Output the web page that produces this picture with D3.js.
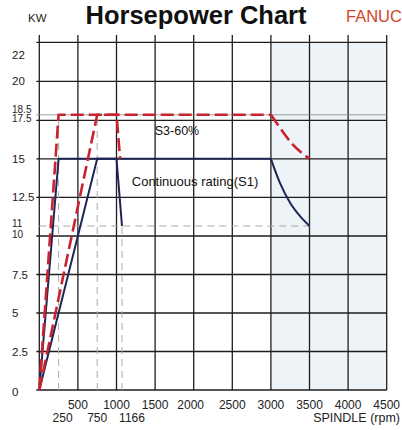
<!DOCTYPE html>
<html>
<head>
<meta charset="utf-8">
<script src="https://cdn.jsdelivr.net/npm/d3@7/dist/d3.min.js"></script>
<style>
  html, body { margin: 0; padding: 0; background: #fff; }
  svg { display: block; font-family: "Liberation Sans", Arial, sans-serif; }
</style>
</head>
<body>
<svg id="chart" width="402" height="430"></svg>
<script>
// ---- data ----
const yTicks = [0, 2.5, 5, 7.5, 10, 11, 12.5, 15, 17.5, 18.5, 20, 22];
const yGrid = [0, 2.5, 5, 7.5, 10, 12.5, 15, 17.5, 20, 22.5];
const xGrid = [0, 500, 1000, 1500, 2000, 2500, 3000, 3500, 4000, 4500];
const xTicksTop = [500, 1000, 1500, 2000, 2500, 3000, 3500, 4000, 4500];
const xTicksBottom = [250, 750, 1166];

// S1 continuous rating (high range)
const s1HighRpm = [0, 250, 3000, 3120, 3250, 3380, 3500];
const s1HighKw  = [0, 15, 15, 13.4, 12.2, 11.5, 11];
// S1 continuous rating (low range)
const s1LowRpm = [0, 750, 1000, 1166];
const s1LowKw  = [0, 15, 15, 11];
// S3-60% (high range)
const s3HighRpm = [0, 250, 3000, 3120, 3270, 3500];
const s3HighKw  = [0, 18.5, 18.5, 17.0, 16.0, 15];
// S3-60% (low range)
const s3LowRpm = [0, 750, 1000, 1110];
const s3LowKw  = [0, 18.5, 18.5, 15];

// reference markers
const markerRpm = [250, 750, 1166];
const markerKw  = [18.5, 18.5, 11];
const refLevelKw = 11;
const refLevelEndRpm = 3500;

const zip = (a, b) => a.map((v, i) => [v, b[i]]);

// ---- scales (piecewise, as printed) ----
const x = d3.scaleLinear()
  .domain([0, 1000, 1166, 1500, 4500])
  .range([39.3, 116.5, 122, 155.1, 386.7]);
const y = d3.scaleLinear()
  .domain([0, 10, 11, 12.5, 17.5, 18.5, 20, 22.5])
  .range([390, 236, 226, 197.3, 120.3, 114.8, 81.3, 42.3]);

const svg = d3.select("#chart");

// light blue tint on the right
svg.append("rect")
  .attr("x", x(3000)).attr("y", y(22.5))
  .attr("width", x(4500) - x(3000)).attr("height", y(0) - y(22.5))
  .attr("fill", "#edf3f7");

// title etc
svg.append("text").attr("x", 196).attr("y", 24)
  .attr("text-anchor", "middle").attr("font-size", 25.5).attr("font-weight", "bold")
  .attr("fill", "#111").text("Horsepower Chart");
svg.append("text").attr("x", 28).attr("y", 22)
  .attr("font-size", 11.5).attr("fill", "#222").text("KW");
svg.append("text").attr("x", 346).attr("y", 22)
  .attr("font-size", 16.5).attr("fill", "#d0452a").text("FANUC");

// grid
const grid = svg.append("g").attr("stroke", "#1e1e1e").attr("stroke-width", 1.3);
grid.selectAll("line.v").data(xGrid).join("line")
  .attr("x1", d => x(d)).attr("x2", d => x(d))
  .attr("y1", 35).attr("y2", y(0));
grid.selectAll("line.h").data(yGrid).join("line")
  .attr("x1", x(0) - 3).attr("x2", x(4500))
  .attr("y1", d => y(d)).attr("y2", d => y(d));

// thin 18.5 line
svg.append("line")
  .attr("x1", x(0) - 3).attr("x2", x(4500))
  .attr("y1", y(18.5)).attr("y2", y(18.5))
  .attr("stroke", "#888").attr("stroke-width", 0.8);

// dashed gray markers
const dash = svg.append("g").attr("stroke", "#aaa").attr("stroke-width", 1)
  .attr("stroke-dasharray", "7,5").attr("fill", "none");
dash.selectAll("line").data(zip(markerRpm, markerKw)).join("line")
  .attr("x1", d => x(d[0])).attr("x2", d => x(d[0]))
  .attr("y1", y(0)).attr("y2", d => y(d[1]));
dash.append("line")
  .attr("x1", x(0)).attr("x2", x(refLevelEndRpm))
  .attr("y1", y(refLevelKw)).attr("y2", y(refLevelKw));

// curves
const line = d3.line().x(d => x(d[0])).y(d => y(d[1]));
const lineCurve = d3.line().x(d => x(d[0])).y(d => y(d[1])).curve(d3.curveMonotoneX);

function drawPiece(rpm, kw, color, width, dasharr) {
  const pts = zip(rpm, kw);
  const straight = pts.filter(p => p[0] <= 3000);
  const tail = pts.filter(p => p[0] >= 3000);
  const g = svg.append("g").attr("fill", "none").attr("stroke", color)
    .attr("stroke-width", width).attr("stroke-linejoin", "round");
  if (dasharr) g.attr("stroke-dasharray", dasharr);
  g.append("path").attr("d", line(straight));
  if (tail.length > 1) g.append("path").attr("d", lineCurve(tail));
}

drawPiece(s1HighRpm, s1HighKw, "#1d2656", 2, null);
svg.append("path").attr("d", line(zip(s1LowRpm, s1LowKw)))
  .attr("fill", "none").attr("stroke", "#1d2656").attr("stroke-width", 2);
drawPiece(s3HighRpm, s3HighKw, "#c8232f", 2.6, "13,5");
svg.append("path").attr("d", line(zip(s3LowRpm, s3LowKw)))
  .attr("fill", "none").attr("stroke", "#c8232f").attr("stroke-width", 2.6)
  .attr("stroke-dasharray", "13,5");

// annotations
svg.append("text").attr("x", 177).attr("y", 135).attr("text-anchor", "middle")
  .attr("font-size", 12.5).attr("fill", "#111").text("S3-60%");
svg.append("text").attr("x", 195).attr("y", 186).attr("text-anchor", "middle")
  .attr("font-size", 13).attr("fill", "#111").text("Continuous rating(S1)");

// y labels
const yNudge = {22: 5, 18.5: -5.5, 17.5: -1.5, 11: -3, 10: -2, 0: 2};
const ySmall = {18.5: 1, 17.5: 1, 11: 1, 10: 1};
svg.append("g").selectAll("text").data(yTicks).join("text")
  .attr("x", 12).attr("y", d => y(d) + (yNudge[d] || 0))
  .attr("dy", "0.35em").attr("font-size", d => ySmall[d] ? 10 : 11.5)
  .attr("fill", "#222")
  .text(d => d);

// x labels
const xNudge = {250: 4, 1166: 10, 2000: -3};
svg.append("g").selectAll("text").data(xTicksTop).join("text")
  .attr("x", d => x(d) + (xNudge[d] || 0)).attr("y", 405).attr("dy", "0.35em")
  .attr("text-anchor", "middle").attr("font-size", 12).attr("fill", "#222")
  .text(d => d);
svg.append("g").selectAll("text").data(xTicksBottom).join("text")
  .attr("x", d => x(d) + (xNudge[d] || 0)).attr("y", 418).attr("dy", "0.35em")
  .attr("text-anchor", "middle").attr("font-size", 12).attr("fill", "#222")
  .text(d => d);
svg.append("text").attr("x", 400).attr("y", 418).attr("dy", "0.35em")
  .attr("text-anchor", "end").attr("font-size", 12.5).attr("fill", "#222")
  .text("SPINDLE (rpm)");
</script>
</body>
</html>
